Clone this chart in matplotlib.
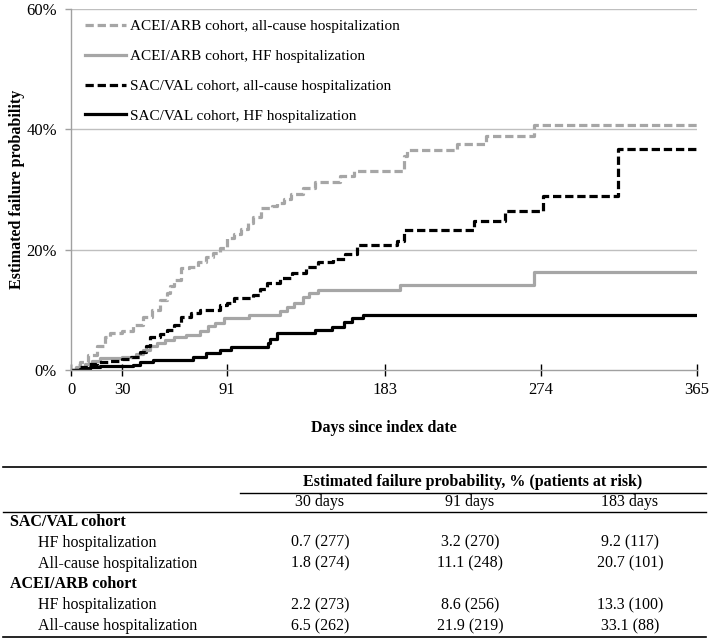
import numpy as np
import matplotlib
matplotlib.use("Agg")
import matplotlib.pyplot as plt

plt.rcParams['font.family'] = ['Liberation Serif', 'DejaVu Serif']
plt.rcParams['font.size'] = 11

# Curvas Kaplan-Meier (día, % acumulado)
acei_all_dias = [0, 3, 5, 10, 15, 20, 23, 30, 36, 42, 47, 52, 56, 58, 60, 64, 69, 74, 79, 83, 87, 91,
                 95, 99, 103, 106, 111, 117, 120, 124, 128, 135, 142, 155, 157, 165, 193, 194, 196,
                 225, 242, 270, 365]
acei_all_pct = [0, 0.8, 1.3, 2.5, 4, 5.5, 6.2, 6.5, 7.5, 8.8, 10, 11.7, 12.8, 14, 15, 17, 17.2, 18, 18.8,
                19.5, 20.2, 21.9, 22.6, 23.5, 24.5, 25.5, 27, 27.3, 27.8, 28.5, 29.2, 30.3, 31.2, 31.3,
                32.2, 33.0, 33.1, 35.6, 36.5, 37.5, 38.9, 40.7, 40.7]

acei_hf_dias = [0, 3, 8, 12, 17, 30, 38, 42, 46, 50, 55, 60, 67, 75, 80, 84, 89, 104, 122, 126, 130,
                135, 139, 144, 192, 270, 365]
acei_hf_pct = [0, 0.5, 1, 1.5, 2, 2.2, 2.6, 3.3, 4, 4.5, 5, 5.5, 5.8, 6.5, 7.3, 7.8, 8.6, 9.2, 9.8,
               10.5, 11.2, 12.2, 12.8, 13.3, 14.2, 16.3, 16.3]

sac_all_dias = [0, 5, 10, 15, 23, 30, 35, 40, 44, 46, 52, 56, 60, 64, 70, 75, 87, 91, 95, 106, 110,
                114, 122, 129, 137, 144, 153, 160, 167, 190, 194, 235, 253, 275, 319, 365]
sac_all_pct = [0, 0.5, 1, 1.3, 1.5, 1.8, 2.2, 3, 4, 5.5, 6, 6.7, 7.5, 8.8, 9.5, 10, 10.8, 11.1, 12,
               12.5, 13.5, 14.5, 15.3, 16.2, 17.2, 18, 18.5, 19.2, 20.7, 21.5, 23.3, 24.7, 26.4, 29,
               36.8, 36.8]

sac_hf_dias = [0, 5, 11, 17, 36, 40, 48, 71, 79, 87, 93, 115, 116, 120, 142, 152, 159, 164, 170, 365]
sac_hf_pct = [0, 0.2, 0.5, 0.7, 0.9, 1.3, 1.7, 2.2, 2.8, 3.3, 3.9, 4.5, 5.2, 6.2, 6.7, 7.2, 8, 8.7,
              9.2, 9.2]

etiquetas = ["ACEI/ARB cohort, all-cause hospitalization",
             "ACEI/ARB cohort, HF hospitalization",
             "SAC/VAL cohort, all-cause hospitalization",
             "SAC/VAL cohort, HF hospitalization"]

x_ticks = [0, 30, 91, 183, 274, 365]
y_ticks = [0, 20, 40, 60]

# Tabla inferior
col_tabla = ["30 days", "91 days", "183 days"]
grupos = ["SAC/VAL cohort", "ACEI/ARB cohort"]
filas = ["HF hospitalization", "All-cause hospitalization"]
valores = [[["0.7 (277)", "3.2 (270)", "9.2 (117)"],
            ["1.8 (274)", "11.1 (248)", "20.7 (101)"]],
           [["2.2 (273)", "8.6 (256)", "13.3 (100)"],
            ["6.5 (262)", "21.9 (219)", "33.1 (88)"]]]

W, H = 709, 638
fig = plt.figure(figsize=(W / 100, H / 100), dpi=100)
ax = fig.add_axes([71 / W, 1 - 370 / H, 626 / W, 361 / H])

gris = "#A6A6A6"
lw = 2.3
dash = (2.6, 1.2)
ax.plot(acei_all_dias, acei_all_pct, drawstyle="steps-post", color=gris, lw=lw, dashes=dash,
        label=etiquetas[0])
ax.plot(acei_hf_dias, acei_hf_pct, drawstyle="steps-post", color=gris, lw=lw, label=etiquetas[1])
ax.plot(sac_all_dias, sac_all_pct, drawstyle="steps-post", color="black", lw=lw, dashes=dash,
        label=etiquetas[2])
ax.plot(sac_hf_dias, sac_hf_pct, drawstyle="steps-post", color="black", lw=lw, label=etiquetas[3])

ax.set_xlim(0, 365)
ax.set_ylim(0, 60)
ax.set_xticks(x_ticks)
ax.set_yticks(y_ticks)
ax.set_yticklabels(["{}%".format(v) for v in y_ticks])
for y in y_ticks[1:]:
    ax.axhline(y, color="#BFBFBF", lw=1.0, zorder=0)
for s in ["top", "right"]:
    ax.spines[s].set_visible(False)
for s in ["left", "bottom"]:
    ax.spines[s].set_color("#A0A0A0")
    ax.spines[s].set_linewidth(1.0)
ax.tick_params(axis="x", direction="inout", length=9, width=1.0, color="black", labelsize=12, pad=4)
ax.tick_params(axis="y", direction="out", length=4, width=1.0, color="#A0A0A0", labelsize=12, pad=6)
ax.set_xlabel("Days since index date", fontweight="bold", fontsize=11.5, labelpad=16)
ax.set_ylabel("Estimated failure probability", fontweight="bold", fontsize=11.5, labelpad=1)

ax.legend(loc="upper left", bbox_to_anchor=(0.005, 1.0), frameon=False, fontsize=11,
          handlelength=2.7, handletextpad=0.25, labelspacing=1.05, borderaxespad=0.3)

# Tabla dibujada en coordenadas de pixel
tab = fig.add_axes([0, 0, 1, 1])
tab.set_xlim(0, W)
tab.set_ylim(H, 0)
tab.axis("off")
tab.plot([3, 706], [467, 467], color="black", lw=1.2)
tab.plot([240, 706], [493, 493], color="black", lw=1.0)
tab.plot([3, 706], [512, 512], color="black", lw=1.0)
tab.plot([3, 706], [637, 637], color="black", lw=1.2)
fs = 11.5
tab.text(473, 482, "Estimated failure probability, % (patients at risk)", ha="center", va="center",
         fontweight="bold", fontsize=fs)
col_x = [320, 470, 630]
for cx, c in zip(col_x, col_tabla):
    tab.text(cx, 502, c, ha="center", va="center", fontsize=fs)
y = 522
for g, grupo in enumerate(grupos):
    tab.text(10, y, grupo, ha="left", va="center", fontweight="bold", fontsize=fs)
    y += 20.8
    for f, fila in enumerate(filas):
        tab.text(38, y, fila, ha="left", va="center", fontsize=fs)
        for cx, v in zip(col_x, valores[g][f]):
            tab.text(cx, y, v, ha="center", va="center", fontsize=fs)
        y += 20.8

fig.savefig("out.png", dpi=100)
